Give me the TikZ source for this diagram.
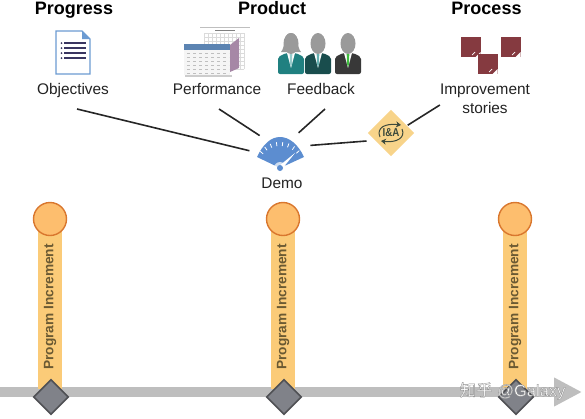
\documentclass[tikz,border=0pt]{standalone}
\usepackage{fontspec}
\setmainfont{Liberation Sans}
\newfontfamily\cjk{Noto Sans CJK SC}
\usetikzlibrary{arrows.meta, positioning, shapes.geometric}
\definecolor{docblue}{HTML}{6C9BD2}
\definecolor{docline}{HTML}{3A3560}
\definecolor{gaugeblue}{HTML}{5C8DD0}
\definecolor{barorange}{HTML}{FBCB78}
\definecolor{dotorange}{HTML}{FDBE6E}
\definecolor{dotedge}{HTML}{D9772E}
\definecolor{axisgrey}{HTML}{BEBEBE}
\definecolor{gatefill}{HTML}{808289}
\definecolor{gateedge}{HTML}{4F5054}
\definecolor{storyred}{HTML}{853A40}
\definecolor{iafill}{HTML}{F8D48A}
\definecolor{iadark}{HTML}{3D4A3C}
\definecolor{headgrey}{HTML}{9A9A9A}
\definecolor{pinktext}{HTML}{6B5A33}
\definecolor{txt}{HTML}{222222}
\tikzset{
  heading/.style={font=\bfseries\fontsize{18}{20}\selectfont, text=black, inner sep=0pt, anchor=base},
  caption/.style={font=\fontsize{15.4}{19}\selectfont, text=txt, inner sep=0pt, text height=11pt, text depth=3pt, align=center},
  link/.style={draw=black!85, line width=1.6pt},
  bar/.style={fill=barorange, minimum width=24pt, minimum height=170pt, inner sep=0pt, anchor=north},
  dot/.style={circle, draw=dotedge, fill=dotorange, line width=1.4pt, minimum size=33pt, inner sep=0pt},
  gate/.style={diamond, aspect=1, draw=gateedge, fill=gatefill, line width=1.6pt, minimum size=35pt, inner sep=0pt},
  barlabel/.style={rotate=90, font=\bfseries\fontsize{13.7}{16}\selectfont, text=pinktext, inner sep=0pt},
  note/.style={fill=storyred},
}
\newcommand{\storynote}[2]{%
  \fill[note] (#1,#2) rectangle ++(19.5,20);
  \fill[white] (#1+19.5,#2+20) -- ++(-5,0) -- ++(5,-5) -- cycle;
  \draw[white, line width=.7pt] (#1+11,#2+18) -- ++(3,-3);
}
\newcommand{\person}[3]{%
  \fill[#2, rounded corners=2pt] (#1-13,74) -- (#1-13,57) -- (#1-5,53) -- (#1+5,53) -- (#1+13,57) -- (#1+13,74) -- cycle;
  \fill[white] (#1-4,53) -- (#1+4,53) -- (#1,68) -- cycle;
  \fill[#3] (#1-1.3,54) -- (#1+1.3,54) -- (#1+1,64) -- (#1,67) -- (#1-1,64) -- cycle;
  \fill[headgrey] (#1,43.5) ellipse (7.5 and 10.5);
}
\begin{document}
\begin{tikzpicture}[x=1pt, y=-1pt]
  \useasboundingbox (0,0) rectangle (585,418);
  % headings
  \node[heading] (progress) at (74,14) {Progress};
  \node[heading] (product) at (272,14) {Product};
  \node[heading] (process) at (486.5,14) {Process};
  % captions
  \node[caption, outer sep=12pt] (objectives) at (73,90) {Objectives};
  \node[caption, outer sep=12pt] (performance) at (217,90) {Performance};
  \node[caption, outer sep=12pt] (feedback) at (321,90) {Feedback};
  \node[caption] (stories) at (485,109) {Improvement\\stories};
  \node[caption] (demo) at (282,184) {Demo};
  % objectives icon
  \draw[docblue, line width=1.4pt, fill=white] (56,31) -- (82,31) -- (90,39) -- (90,74) -- (56,74) -- cycle;
  \fill[docblue] (82,31) -- (90,39) -- (82,39) -- cycle;
  \foreach \y in {43,48,53,58} {
    \draw[docline, line width=1.3pt] (64,\y) -- (86,\y);
    \fill[docline] (61.5,\y) circle (1);
  }
  % performance icon
  \draw[black!25, line width=.4pt] (200,27) -- (250,27);
  \draw[black!14, line width=.3pt, step=4pt, shift={(204,33)}] (0,0) grid (40,36);
  \fill[black!50] (215,29.5) rectangle (235,31);
  \fill[black!20] (185,75) rectangle (232,77);
  \fill[black!4] (184,44) rectangle (230,75);
  \fill[docblue!85!black] (184,44) rectangle (230,50);
  \foreach \y in {53,57,...,73} \draw[black!25, line width=.5pt, dash pattern=on 3pt off 3pt] (187,\y) -- (229,\y);
  \fill[violet!35!gray!70] (230,45) -- (239,38) -- (239,68) -- (230,72) -- cycle;
  % feedback icon
  \person{291}{teal!75!gray}{teal!40!white}
  \fill[headgrey] (281,52) .. controls (286,46) and (283,33) .. (291,33) .. controls (299,33) and (296,46) .. (301,52) -- cycle;
  \person{318}{teal!45!black!90}{teal!60!white}
  \person{348}{black!78}{green!50!gray}
  % story icon
  \storynote{461}{37}
  \storynote{501}{37}
  \storynote{478}{54}
  % gauge icon
  \node[circle, minimum size=66pt, inner sep=0pt] (gauge) at (281,161) {};
  \fill[gaugeblue] (280,168) -- (257,157) .. controls (263,144) and (271,137) .. (280,137) .. controls (289,137) and (298,144) .. (304,157) -- cycle;
  \foreach \a in {42,56,...,140} \draw[white, line width=.8pt, shift={(280,168)}] (-\a:22) -- (-\a:26);
  \fill[white, opacity=.7] (280,168) circle (6);
  \fill[white] (279,166) -- (295,153) -- (282,169) -- cycle;
  \fill[gaugeblue] (280,168) circle (3);
  % I&A
  \node[diamond, aspect=1, fill=iafill, minimum size=47pt, inner sep=0pt, outer sep=1pt] (ia) at (391,133) {};
  \node[font=\bfseries\fontsize{11.5}{12}\selectfont, text=iadark, inner sep=0pt, xscale=.85] (ialabel) at (ia.center) {I\&A};
  \draw[iadark, line width=1pt, -{Stealth[length=5pt,width=6pt]}] (380,137) .. controls (376,128) and (385,123) .. (401,125);
  \draw[iadark, line width=1pt, -{Stealth[length=5pt,width=6pt]}] (402,129) .. controls (406,138) and (396,143) .. (381,141);
  % connectors
  \path[link] ([xshift=4pt]objectives.south) -- (gauge.162);
  \path[link] ([xshift=2pt]performance.south) -- (gauge.130);
  \path[link] ([xshift=4pt]feedback.south) -- (gauge.58);
  \path[link] (gauge.28) -- ([yshift=-8pt]ia.west);
  \path[link] (ia.25) -- ([yshift=4pt]stories.west);
  % timeline
  \coordinate (axisstart) at (0,392);
  \coordinate (axisend) at (582,392);
  \draw[axisgrey, line width=9.5pt, -{Triangle[length=28pt,width=27pt]}] (axisstart) -- (axisend);
  \foreach \name/\x in {a/50,b/283,c/515} {
    \node[bar] (bar\name) at (\x,219) {};
    \node[dot] (dot\name) at (\x,219) {};
    \node[barlabel] (label\name) at (\x,307) {Program Increment};
    \node[gate] (gate\name) at (\x+1,397) {};
  }
  % watermark
  \node[font=\fontsize{16.5}{18}\selectfont, text=white, inner sep=0pt] (mark) at (512.5,391) {\special{pdf:code q 2 Tr 0.55 G 0.35 w}{\cjk 知乎} @Galaxy\special{pdf:code Q 0 Tr}};
\end{tikzpicture}
\end{document}
